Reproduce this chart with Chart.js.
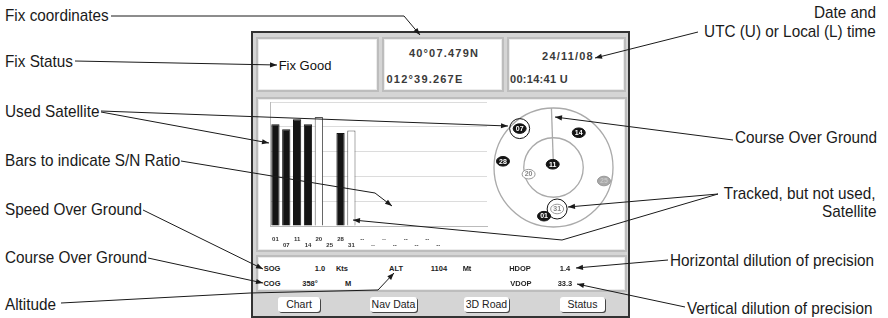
<!DOCTYPE html>
<html>
<head>
<meta charset="utf-8">
<script src="https://cdn.jsdelivr.net/npm/chart.js@4.4.1/dist/chart.umd.min.js"></script>
<style>
body{margin:0;width:888px;height:318px;position:relative;background:#fff;overflow:hidden;font-family:"Liberation Sans",Arial,sans-serif;color:#1a1a1a}
.t{position:absolute;font-size:17px;white-space:nowrap;line-height:1;transform:translateY(-50%) scaleX(0.9);transform-origin:left center}
.r{text-align:right;transform-origin:right center}
#frame{position:absolute;left:251px;top:31px;width:375px;height:283px;border:2px solid #333;background:#d5d5d5}
.pan{position:absolute;background:#fff;border:2px solid #bdbdbd;box-shadow:inset 0 0 0 1px #ececec;box-sizing:border-box}
.s{position:absolute;white-space:nowrap;line-height:1;transform:translate(-50%,-50%)}
.v{font-size:11px;font-weight:bold;color:#3a3a3a;letter-spacing:1.2px}
.i{font-size:7.5px;font-weight:bold;color:#222}
.btn{position:absolute;top:297px;height:15px;background:#fff;border-radius:3px;box-shadow:1px 1px 0 #444;font-size:10.5px;color:#222;text-align:center;line-height:15px;white-space:nowrap}
#bars{position:absolute;left:256px;top:97px;width:240px;height:155px}
#sky{position:absolute;left:488px;top:102px;width:131px;height:131px}
#lines{position:absolute;left:0;top:0;z-index:10;pointer-events:none}
</style>
</head>
<body>

<div id="frame"></div>
<div class="pan" style="left:256px;top:37px;width:123px;height:55px"></div>
<div class="pan" style="left:382px;top:37px;width:122px;height:55px"></div>
<div class="pan" style="left:507px;top:37px;width:119px;height:55px"></div>
<div class="pan" style="left:256px;top:97px;width:371px;height:155px"></div>
<div class="pan" style="left:256px;top:255px;width:371px;height:37px"></div>

<div class="s" style="left:305px;top:65px;font-size:13px;color:#111">Fix Good</div>
<div class="s v" style="left:444px;top:53px">40°07.479N</div>
<div class="s v" style="left:425px;top:79px">012°39.267E</div>
<div class="s v" style="left:568px;top:56px">24/11/08</div>
<div class="s v" style="left:539px;top:79px;letter-spacing:0.3px">00:14:41 U</div>

<div id="bars"><canvas id="barChart"></canvas></div>
<div id="sky"><canvas id="skyChart"></canvas></div>

<div class="s i" style="left:272px;top:269px">SOG</div>
<div class="s i" style="left:320px;top:269px">1.0</div>
<div class="s i" style="left:342px;top:269px">Kts</div>
<div class="s i" style="left:396px;top:269px">ALT</div>
<div class="s i" style="left:439px;top:269px">1104</div>
<div class="s i" style="left:467px;top:269px">Mt</div>
<div class="s i" style="left:520px;top:269px">HDOP</div>
<div class="s i" style="left:565px;top:269px">1.4</div>
<div class="s i" style="left:272px;top:284px">COG</div>
<div class="s i" style="left:310px;top:284px">358°</div>
<div class="s i" style="left:348px;top:284px">M</div>
<div class="s i" style="left:521px;top:284px">VDOP</div>
<div class="s i" style="left:565px;top:284px">33.3</div>

<div class="btn" style="left:278px;width:42px">Chart</div>
<div class="btn" style="left:370px;width:47px">Nav Data</div>
<div class="btn" style="left:464px;width:45px">3D Road</div>
<div class="btn" style="left:560px;width:45px">Status</div>

<div class="t" style="left:5px;top:15px">Fix coordinates</div>
<div class="t" style="left:5px;top:61px">Fix Status</div>
<div class="t" style="left:5px;top:111px">Used Satellite</div>
<div class="t" style="left:5px;top:160px">Bars to indicate S/N Ratio</div>
<div class="t" style="left:5px;top:209px">Speed Over Ground</div>
<div class="t" style="left:5px;top:257px">Course Over Ground</div>
<div class="t" style="left:5px;top:304px">Altitude</div>
<div class="t r" style="right:12px;top:12px">Date and</div>
<div class="t r" style="right:12px;top:31px">UTC (U) or Local (L) time</div>
<div class="t" style="left:735px;top:137px">Course Over Ground</div>
<div class="t r" style="right:12px;top:193px">Tracked, but not used,</div>
<div class="t r" style="right:12px;top:211px">Satellite</div>
<div class="t" style="left:670px;top:260px">Horizontal dilution of precision</div>
<div class="t" style="left:687px;top:308px">Vertical dilution of precision</div>

<canvas id="lines" width="888" height="318"></canvas>

<script>
// S/N bars, one slot per receiver channel
let channels=["01","07","11","14","20","25","28","31","--","--","--","--","--","--","--","--","","","",""]
let snr=[41,39,43,41,44,0,37.5,38.5]
let usedInFix=[1,1,1,1,0,0,1,0]

// sky view
let skyIds=["07","14","28","11","20","31","01","25"]
let skyAz=[319,36,277,346,255,175,191,105]
let skyEl=[12,25,13,85,51,27,15,11]
let skyState=[1,1,1,1,0,0,1,2]
let ringed=["07","31"]
let cog=358

let barColors=snr.map((v,i)=>usedInFix[i]?"#141414":"#fff")
let barBorders=snr.map((v,i)=>usedInFix[i]?"#141414":"#555")

new Chart(document.getElementById("barChart"),{
type:"bar",
data:{
labels:channels,
datasets:[{
data:snr,
backgroundColor:barColors,
borderColor:barBorders,
borderWidth:1,
barPercentage:0.76,
categoryPercentage:1
}]
},
options:{
responsive:true,
maintainAspectRatio:false,
animation:false,
layout:{padding:{left:14,right:9,top:5,bottom:2}},
plugins:{legend:{display:false},tooltip:{enabled:false}},
scales:{
x:{
grid:{display:false},
border:{display:true,color:"#bbb"},
ticks:{
autoSkip:false,maxRotation:0,padding:2,color:"#333",
font:{size:6,weight:"bold",lineHeight:1},
callback:function(v,i){let l=channels[i];return i%2==0?[l,""]:["",l]}
}
},
y:{
min:0,max:50,
ticks:{display:false,stepSize:10},
grid:{color:"#dcdcdc",drawTicks:false},
border:{display:true,color:"#bbb"}
}
}
}
})

let skyPoints=skyIds.map((id,i)=>{
let r=90-skyEl[i]
let a=skyAz[i]*Math.PI/180
return {x:r*Math.sin(a),y:r*Math.cos(a)}
})

let skyDraw={
id:"skyDraw",
beforeDatasetsDraw(chart){
let ctx=chart.ctx
let sx=chart.scales.x,sy=chart.scales.y
let cx=sx.getPixelForValue(0),cy=sy.getPixelForValue(0)
ctx.save()
ctx.strokeStyle="#aaa"
ctx.lineWidth=1.3
;[90,45].forEach(r=>{
let rp=sx.getPixelForValue(r)-cx
ctx.beginPath()
ctx.arc(cx,cy,rp,0,Math.PI*2)
ctx.stroke()
})
let a=cog*Math.PI/180
ctx.beginPath()
ctx.moveTo(cx,cy)
ctx.lineTo(sx.getPixelForValue(90*Math.sin(a)),sy.getPixelForValue(90*Math.cos(a)))
ctx.stroke()
ctx.restore()
},
afterDatasetsDraw(chart){
let ctx=chart.ctx
let meta=chart.getDatasetMeta(0)
ctx.save()
ctx.textAlign="center"
ctx.textBaseline="middle"
ctx.font="bold 7px 'Liberation Sans'"
meta.data.forEach((p,i)=>{
let st=skyState[i]
ctx.beginPath()
ctx.ellipse(p.x,p.y,6.5,4.8,0,0,Math.PI*2)
ctx.fillStyle=st==1?"#141414":st==2?"#a8a8a8":"#fff"
ctx.fill()
ctx.strokeStyle=st==1?"#141414":"#999"
ctx.lineWidth=1
ctx.stroke()
ctx.fillStyle=st==1?"#fff":st==2?"#c8c8c8":"#888"
ctx.fillText(skyIds[i],p.x,p.y+0.3)
if(ringed.includes(skyIds[i])){
ctx.beginPath()
ctx.arc(p.x,p.y,10,0,Math.PI*2)
ctx.strokeStyle="#111"
ctx.stroke()
}
})
ctx.restore()
}
}

new Chart(document.getElementById("skyChart"),{
type:"scatter",
data:{datasets:[{data:skyPoints,pointRadius:0}]},
options:{
responsive:true,
maintainAspectRatio:false,
animation:false,
layout:{padding:6},
plugins:{legend:{display:false},tooltip:{enabled:false}},
scales:{
x:{min:-90,max:90,display:false},
y:{min:-90,max:90,display:false}
}
},
plugins:[skyDraw]
})

// leader lines for the callouts
let lc=document.getElementById("lines").getContext("2d")
lc.strokeStyle="#1a1a1a"
lc.fillStyle="#1a1a1a"
lc.lineWidth=1

function leader(pts,arrow){
lc.beginPath()
lc.moveTo(pts[0][0],pts[0][1])
for(let k=1;k<pts.length;k++)lc.lineTo(pts[k][0],pts[k][1])
lc.stroke()
if(arrow){
let a=pts[pts.length-2],b=pts[pts.length-1]
let ang=Math.atan2(b[1]-a[1],b[0]-a[0])
lc.beginPath()
lc.moveTo(b[0],b[1])
lc.lineTo(b[0]-7*Math.cos(ang)+2.6*Math.sin(ang),b[1]-7*Math.sin(ang)-2.6*Math.cos(ang))
lc.lineTo(b[0]-7*Math.cos(ang)-2.6*Math.sin(ang),b[1]-7*Math.sin(ang)+2.6*Math.cos(ang))
lc.closePath()
lc.fill()
}
}

leader([[111,16],[404,16],[420,35]],true)
leader([[75,61],[277,65]],true)
leader([[101,111],[508,126]],true)
leader([[101,112],[269,143]],true)
leader([[181,161],[375,193],[392,206]],true)
leader([[143,210],[263,269]],true)
leader([[148,258],[263,283]],true)
leader([[61,303],[250,293],[378,290],[394,273]],true)
leader([[698,32],[595,58]],true)
leader([[733,140],[555,117]],true)
leader([[718,194],[568,207]],true)
leader([[718,194],[562,240],[353,220]],true)
leader([[668,260],[576,268]],true)
leader([[685,307],[577,284]],true)
</script>
</body>
</html>
